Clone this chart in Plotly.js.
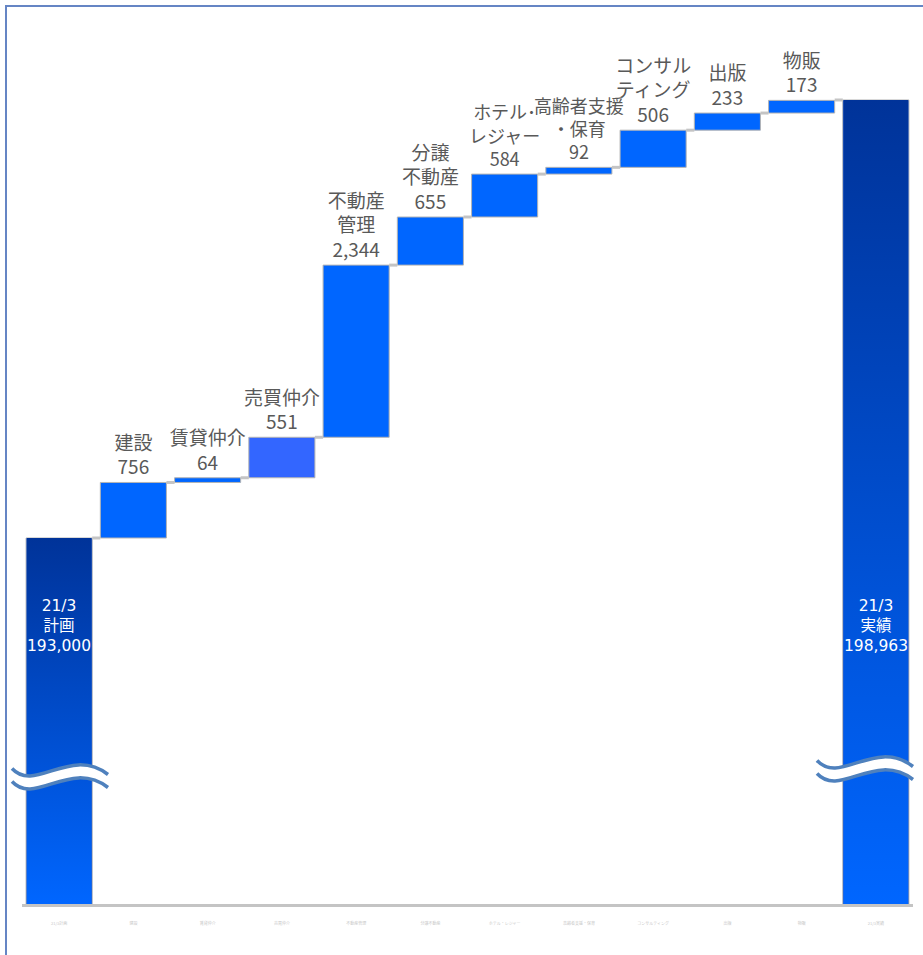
<!DOCTYPE html>
<html>
<head>
<meta charset="utf-8">
<script src="https://cdn.plot.ly/plotly-3.0.1.min.js"></script>
<style>
  html, body { margin: 0; padding: 0; background: #ffffff; }
  #frame { position: absolute; left: 5px; top: 5px; width: 940px; height: 970px;
           border-left: 2px solid #6585c4; border-top: 2px solid #6585c4; z-index: 0; }
  #chart { position: absolute; left: 0; top: 0; width: 923px; height: 955px; z-index: 1; }
</style>
</head>
<body>
<div id="frame"></div>
<div id="chart"></div>
<script>
// ---- data ----
const categories = ['21/3計画', '建設', '賃貸仲介', '売買仲介', '不動産管理', '分譲不動産',
  'ホテル・レジャー', '高齢者支援・保育', 'コンサルティング', '出版', '物販', '21/3実績'];
const labelLines = ['21/3<br>計画', '建設', '賃貸仲介', '売買仲介', '不動産<br>管理', '分譲<br>不動産',
  'ホテル･<br>レジャー', '高齢者支援<br>・保育', 'コンサル<br>ティング', '出版', '物販', '21/3<br>実績'];
const startTotal = 193000;
const increments = [756, 64, 551, 2344, 655, 584, 92, 506, 233, 173];
const endTotal = 198963;
const incColors = ['#0066ff', '#0066ff', '#3366ff', '#0066ff', '#0066ff', '#0066ff', '#0066ff', '#0066ff', '#0066ff', '#0066ff'];
const labelSizes = [19, 19, 19, 19, 19, 19, 18, 18, 19, 19, 19, 19];

// ---- build bars ----
const n = categories.length;
const xs = categories.map((_, i) => i);
const bases = [0];
const heights = [startTotal];
const texts = [''];
const colors = ['#0044cc'];
let run = startTotal;
const ends = [startTotal];
increments.forEach((v, k) => {
  bases.push(run);
  heights.push(v);
  texts.push(labelLines[k + 1] + '<br>' + v.toLocaleString('en-US'));
  colors.push(incColors[k]);
  run += v;
  ends.push(run);
});
bases.push(0); heights.push(endTotal); texts.push(''); colors.push('#0044cc');
ends.push(endTotal);

const BW = 0.89;
const yMin = 188017, yMax = 200052;

const barTrace = {
  type: 'bar', x: xs, y: heights, base: bases, width: BW,
  marker: { color: colors, line: { color: '#b4b4b4', width: 1 } },
  text: texts, textposition: 'outside', constraintext: 'none', cliponaxis: false,
  textfont: { family: '"Noto Sans CJK JP", "Noto Sans", sans-serif', size: labelSizes, color: '#595959' },
  hoverinfo: 'skip', showlegend: false
};

// connectors
const cx = [], cy = [];
for (let i = 0; i < n - 1; i++) {
  const level = (i === n - 2) ? endTotal : ends[i];
  cx.push(i + BW / 2, i + 1 - BW / 2, null);
  cy.push(level, level, null);
}
const connTrace = {
  type: 'scatter', mode: 'lines', x: cx, y: cy,
  line: { color: '#c4c4c4', width: 3 }, hoverinfo: 'skip', showlegend: false
};

// gradient images for the two total bars
const svg = "<svg xmlns='http://www.w3.org/2000/svg' width='10' height='100' viewBox='0 0 10 100' preserveAspectRatio='none'>" +
  "<defs><linearGradient id='g' x1='0' y1='0' x2='0' y2='1'><stop offset='0' stop-color='#003399'/>" +
  "<stop offset='1' stop-color='#0066ff'/></linearGradient></defs>" +
  "<rect x='0' y='0' width='10' height='100' fill='url(#g)'/></svg>";
const gradSrc = 'data:image/svg+xml;charset=utf-8,' + encodeURIComponent(svg);
const totalIdx = [0, n - 1];
const totalVals = [startTotal, endTotal];
const images = totalIdx.map((i, k) => ({
  source: gradSrc, xref: 'x', yref: 'y', x: i - BW / 2 + 0.006, y: totalVals[k],
  sizex: BW - 0.012, sizey: totalVals[k] - yMin, xanchor: 'left', yanchor: 'top',
  sizing: 'stretch', layer: 'above'
}));

// total labels
const annotations = totalIdx.map((i, k) => ({
  xref: 'x', yref: 'paper', x: i, y: 0.3145, xanchor: 'center', yanchor: 'middle',
  showarrow: false,
  text: labelLines[i] + '<br>' + totalVals[k].toLocaleString('en-US'),
  font: { family: '"DejaVu Sans", "Noto Sans CJK JP", sans-serif', size: 15.5, color: '#ffffff' }
}));

// axis-break marks (decorative), pixel -> paper
const L = 22, R = 913, T = 20, B = 904;
function P(x, y) { return ((x - L) / (R - L)).toFixed(5) + ',' + ((B - y) / (B - T)).toFixed(5); }
const wave = [[12, 775], [35, 800], [70, 752], [108, 781]];
function curve(dx, dy, off, rev) {
  let c = wave.map(p => [p[0] + dx, p[1] + dy + off]);
  if (rev) c = c.slice().reverse();
  return [c[0], 'C' + P(c[1][0], c[1][1]) + ' ' + P(c[2][0], c[2][1]) + ' ' + P(c[3][0], c[3][1])];
}
const shapes = [];
[[0, 0], [805, -8]].forEach(d => {
  const h = 6.5;
  const top = curve(d[0], d[1], -h, false);
  const bot = curve(d[0], d[1], h, true);
  shapes.push({
    type: 'path', xref: 'paper', yref: 'paper',
    path: 'M' + P(top[0][0], top[0][1]) + ' ' + top[1] + ' L' + P(bot[0][0], bot[0][1]) + ' ' + bot[1] + ' Z',
    fillcolor: '#ffffff', line: { width: 0 }, layer: 'above'
  });
  [top, bot].forEach(cv => shapes.push({
    type: 'path', xref: 'paper', yref: 'paper',
    path: 'M' + P(cv[0][0], cv[0][1]) + ' ' + cv[1],
    line: { color: '#4f81bd', width: 3.5 }, layer: 'above'
  }));
});

const layout = {
  width: 923, height: 955,
  margin: { l: L, r: 923 - R, t: T, b: 955 - B },
  paper_bgcolor: 'rgba(0,0,0,0)', plot_bgcolor: 'rgba(0,0,0,0)',
  showlegend: false,
  xaxis: {
    type: 'linear', range: [-0.5, 11.5], tickvals: xs, ticktext: categories,
    tickfont: { size: 4, color: '#c8c8c8', family: '"Noto Sans CJK JP", sans-serif' },
    ticks: '', ticklabelstandoff: 13,
    showgrid: false, zeroline: false, showline: true, linecolor: '#c4c4c4', linewidth: 3,
    fixedrange: true
  },
  yaxis: { range: [yMin, yMax], visible: false, showgrid: false, zeroline: false, fixedrange: true },
  images: images, annotations: annotations, shapes: shapes,
  bargap: 0.11
};

Plotly.newPlot('chart', [barTrace, connTrace], layout, { displayModeBar: false, staticPlot: true });
</script>
</body>
</html>
